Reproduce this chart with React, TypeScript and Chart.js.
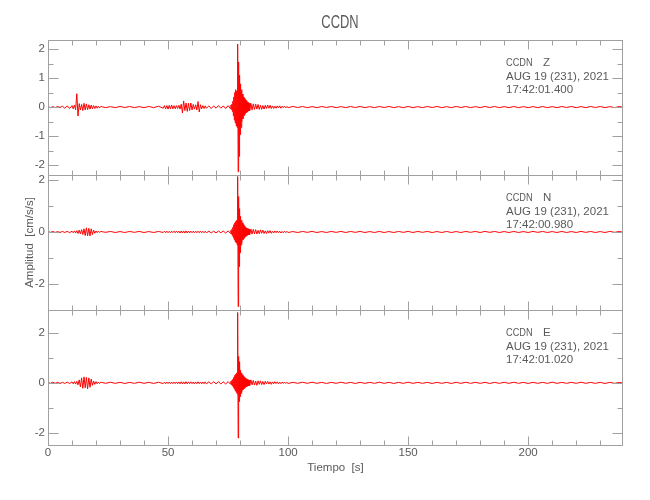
import React, { useEffect, useRef } from 'react';
import { Chart, registerables } from 'chart.js';

Chart.register(...registerables);

// ---- data (signed envelope samples) ----
const stationName = 'CCDN';
const components = ['Z', 'N', 'E'];
const dateLabel = 'AUG 19 (231), 2021';
const startTimes = ['17:42:01.400', '17:42:00.980', '17:42:01.020'];
const xTickLabels = [0, 50, 100, 150, 200];

const timeGrid = [
  0, 1, 2, 3, 4, 5, 6, 7, 8, 9,
  10, 10.5, 11, 11.5, 12, 12.5, 13, 13.5, 14, 14.5, 15, 15.5, 16, 16.5, 17, 17.5, 18, 18.5, 19, 19.5, 20, 20.5, 21, 21.5,
  22, 24, 26, 28, 30, 32, 34, 36, 38, 40, 42, 44, 46,
  48, 48.5, 49, 49.5, 50, 50.5, 51, 51.5, 52, 52.5, 53, 53.5, 54, 54.5, 55, 55.5, 56, 56.5, 57, 57.5, 58, 58.5, 59, 59.5,
  60, 60.5, 61, 61.5, 62, 62.5, 63, 63.5, 64, 64.5, 65, 65.5,
  66, 67, 68, 69, 70, 71, 72, 73, 74, 75,
  76, 76.2, 76.4, 76.6, 76.8, 77, 77.2, 77.4, 77.6, 77.8, 78, 78.2, 78.4, 78.6, 78.8, 79, 79.2, 79.4, 79.6, 79.8,
  80, 80.2, 80.4, 80.6, 80.8, 81, 81.2, 81.4, 81.6, 81.8, 82, 82.2, 82.4, 82.6, 82.8, 83, 83.2, 83.4, 83.6, 83.8,
  84, 84.5, 85, 85.5, 86, 86.5, 87, 87.5, 88, 88.5, 89, 89.5, 90, 90.5, 91, 91.5, 92, 92.5, 93, 93.5,
  94, 94.5, 95, 95.5, 96, 96.5, 97, 97.5, 98, 98.5, 99, 99.5,
  100, 102, 104, 106, 108, 110, 112, 114, 116, 118, 120, 122, 124, 126, 128, 130, 132, 134, 136, 138,
  140, 142, 144, 146, 148, 150, 152, 154, 156, 158, 160, 162, 164, 166, 168, 170, 172, 174, 176, 178,
  180, 182, 184, 186, 188, 190, 192, 194, 196, 198, 200, 202, 204, 206, 208, 210, 212, 214, 216, 218,
  220, 222, 224, 226, 228, 230, 232, 234, 236, 238, 240,
];

const zValues = [
  0.02, -0.02, 0.015, -0.02, 0.02, -0.015, 0.03, -0.04, 0.04, -0.05,
  0.05, -0.06, 0.07, -0.09, 0.46, -0.31, 0.12, -0.1, 0.09, -0.12,
  0.13, -0.1, 0.11, -0.09, 0.08, -0.07, 0.07, -0.06, 0.05, -0.05,
  0.04, -0.04, 0.03, -0.03,
  0.02, -0.02, 0.015, -0.02, 0.02, -0.015, 0.02, -0.02, 0.015, -0.02,
  0.02, -0.02, 0.03,
  -0.04, 0.05, -0.06, 0.05, -0.07, 0.06, -0.06, 0.07, -0.06, 0.05,
  -0.06, 0.05, -0.05, 0.06, -0.07, 0.1, -0.2, 0.21, -0.12, 0.14,
  -0.15, 0.13, -0.12, 0.14, -0.1, 0.09, -0.07, 0.08, -0.1, 0.19,
  -0.17, 0.08, -0.06, 0.05, -0.05, 0.04,
  -0.04, 0.04, -0.05, 0.04, -0.04, 0.05, -0.04, 0.04, -0.05, 0.05,
  -0.06, 0.07, -0.08, 0.1, -0.15, 0.2, -0.3, 0.35, -0.45, 0.5,
  -0.55, 0.6, -0.65, 0.55, -0.7, 2.17, -2.23, 1.55, -1.7, 1.1,
  -0.95, 0.8, -0.7, 0.6, -0.5, 0.45, -0.4, 0.35, -0.3, 0.3,
  -0.25, 0.25, -0.2, 0.22, -0.18, 0.17, -0.15, 0.15, -0.13, 0.13,
  -0.12, 0.13, -0.1, 0.11, -0.08, 0.1, -0.07, 0.09, -0.08, 0.06,
  -0.08, 0.05, -0.07, 0.06, -0.05, 0.07, -0.04, 0.06, -0.05, 0.04,
  -0.05, 0.03, -0.04, 0.04, -0.03, 0.04, -0.04, 0.03, -0.02, 0.03,
  -0.03, 0.02,
  -0.02, 0.02, -0.015, 0.02, -0.02, 0.015, -0.02, 0.02, -0.015, 0.02,
  -0.02, 0.015, -0.02, 0.02, -0.015, 0.02, -0.02, 0.015, -0.02, 0.02,
  -0.015, 0.02, -0.02, 0.015, -0.02, 0.02, -0.02, 0.015, -0.02, 0.02,
  -0.015, 0.02, -0.02, 0.015, -0.02, 0.02, -0.015, 0.02, -0.02, 0.015,
  -0.02, 0.02, -0.015, 0.02, -0.02, 0.015, -0.02, 0.02, -0.02, 0.015,
  -0.02, 0.015, -0.02, 0.02, -0.02, 0.015, -0.02, 0.02, -0.015, 0.02,
  -0.02, 0.015, -0.02, 0.02, -0.015, 0.02, -0.02, 0.015, -0.02, 0.02,
  -0.015,
];

const nValues = [
  0.02, -0.015, 0.02, -0.02, 0.015, -0.02, 0.02, -0.02, 0.025, -0.03,
  0.03, -0.03, 0.04, -0.04, 0.05, -0.06, 0.07, -0.07, 0.09, -0.1,
  0.12, -0.14, 0.16, -0.15, 0.14, -0.15, 0.12, -0.1, 0.07, -0.05,
  0.04, -0.03, 0.03, -0.02,
  0.02, -0.015, 0.02, -0.02, 0.015, -0.02, 0.02, -0.015, 0.02, -0.02,
  0.015, -0.02, 0.02,
  -0.02, 0.03, -0.03, 0.03, -0.03, 0.025, -0.03, 0.03, -0.025, 0.03,
  -0.03, 0.03, -0.03, 0.03, -0.04, 0.04, -0.04, 0.04, -0.04, 0.04,
  -0.04, 0.035, -0.035, 0.03, -0.03, 0.03, -0.03, 0.03, -0.03, 0.03,
  -0.03, 0.03, -0.03, 0.025, -0.03, 0.03,
  -0.03, 0.03, -0.035, 0.03, -0.035, 0.035, -0.03, 0.035, -0.04, 0.04,
  -0.05, 0.06, -0.08, 0.1, -0.14, 0.18, -0.22, 0.28, -0.3, 0.35,
  -0.38, 0.4, -0.42, 0.45, -0.5, 2.13, -2.87, 1.36, -1.33, 0.9,
  -0.8, 0.6, -0.5, 0.45, -0.4, 0.35, -0.3, 0.28, -0.25, 0.22,
  -0.2, 0.18, -0.17, 0.15, -0.14, 0.13, -0.12, 0.12, -0.11, 0.1,
  -0.1, 0.11, -0.08, 0.1, -0.07, 0.09, -0.08, 0.06, -0.07, 0.08,
  -0.05, 0.07, -0.06, 0.04, -0.06, 0.05, -0.04, 0.05, -0.05, 0.03,
  -0.04, 0.04, -0.03, 0.04, -0.03, 0.03, -0.04, 0.02, -0.03, 0.03,
  -0.025, 0.02,
  -0.02, 0.015, -0.02, 0.02, -0.015, 0.02, -0.02, 0.015, -0.02, 0.02,
  -0.015, 0.02, -0.02, 0.02, -0.015, 0.02, -0.02, 0.015, -0.02, 0.02,
  -0.02, 0.015, -0.02, 0.02, -0.015, 0.02, -0.02, 0.02, -0.015, 0.02,
  -0.02, 0.015, -0.02, 0.02, -0.02, 0.015, -0.02, 0.02, -0.015, 0.02,
  -0.02, 0.02, -0.015, 0.02, -0.02, 0.015, -0.02, 0.02, -0.02, 0.015,
  -0.02, 0.02, -0.015, 0.02, -0.02, 0.015, -0.02, 0.02, -0.02, 0.015,
  -0.02, 0.02, -0.015, 0.02, -0.02, 0.015, -0.02, 0.02, -0.015, 0.02,
  -0.02,
];

const eValues = [
  0.02, -0.02, 0.025, -0.02, 0.02, -0.025, 0.02, -0.025, 0.03, -0.03,
  0.04, -0.04, 0.05, -0.05, 0.06, -0.08, 0.12, -0.16, 0.2, -0.22,
  0.24, -0.2, 0.22, -0.24, 0.2, -0.18, 0.15, -0.1, 0.07, -0.06,
  0.05, -0.04, 0.03, -0.03,
  0.025, -0.02, 0.025, -0.02, 0.02, -0.025, 0.02, -0.02, 0.025, -0.02,
  0.02, -0.025, 0.025,
  -0.03, 0.03, -0.035, 0.03, -0.03, 0.035, -0.03, 0.03, -0.035, 0.03,
  -0.03, 0.035, -0.035, 0.035, -0.04, 0.045, -0.045, 0.04, -0.04, 0.045,
  -0.04, 0.04, -0.035, 0.04, -0.035, 0.035, -0.04, 0.035, -0.035, 0.04,
  -0.035, 0.035, -0.04, 0.035, -0.035, 0.04,
  -0.04, 0.04, -0.04, 0.045, -0.04, 0.045, -0.045, 0.04, -0.045, 0.05,
  -0.05, 0.06, -0.07, 0.09, -0.12, 0.15, -0.18, 0.22, -0.25, 0.3,
  -0.32, 0.35, -0.38, 0.4, -0.45, 2.83, -2.22, 1.06, -0.75, 0.85,
  -0.55, 0.5, -0.42, 0.4, -0.35, 0.32, -0.28, 0.26, -0.24, 0.22,
  -0.2, 0.18, -0.17, 0.16, -0.15, 0.14, -0.13, 0.12, -0.12, 0.11,
  -0.11, 0.12, -0.08, 0.1, -0.09, 0.07, -0.1, 0.08, -0.06, 0.08,
  -0.07, 0.05, -0.07, 0.06, -0.04, 0.06, -0.05, 0.04, -0.06, 0.04,
  -0.04, 0.05, -0.03, 0.04, -0.04, 0.03, -0.035, 0.03, -0.025, 0.03,
  -0.025, 0.02,
  -0.025, 0.02, -0.02, 0.025, -0.02, 0.025, -0.02, 0.02, -0.025, 0.02,
  -0.02, 0.025, -0.02, 0.02, -0.025, 0.02, -0.02, 0.02, -0.02, 0.025,
  -0.02, 0.02, -0.025, 0.02, -0.02, 0.025, -0.02, 0.02, -0.02, 0.02,
  -0.025, 0.02, -0.02, 0.02, -0.025, 0.02, -0.02, 0.025, -0.02, 0.02,
  -0.02, 0.02, -0.025, 0.02, -0.02, 0.02, -0.02, 0.025, -0.02, 0.02,
  -0.025, 0.02, -0.02, 0.02, -0.02, 0.025, -0.02, 0.02, -0.02, 0.02,
  -0.02, 0.025, -0.02, 0.02, -0.02, 0.02, -0.025, 0.02, -0.02, 0.02,
  -0.02,
];

// axis ranges per panel (top to bottom: Z, N, E)
const yMins = [-2.34, -3.0, -2.5];
const yMaxs = [2.31, 2.19, 2.93];
const yMinorSteps = [0.5, 1, 1];
const yLabelSteps = [1, 2, 2];
const xMin = 0;
const xMax = 239.5;

// ---- styling ----
const TEXT = '#5a5a5a';
const FRAME = '#a0a0a0';
const TRACE = '#ff0000';
const FONT = "'Liberation Sans', Arial, sans-serif";
const axisIds = ['yZ', 'yN', 'yE'];

const isMultiple = (v: number, step: number) => Math.abs(v / step - Math.round(v / step)) < 1e-6;

const framePlugin = {
  id: 'seisFrame',
  afterDraw(chart: any) {
    const { ctx, chartArea, scales } = chart;
    const xs = scales.x;
    const L = Math.round(chartArea.left) + 0.5;
    const R = Math.round(chartArea.right) - 0.5;
    ctx.save();
    ctx.strokeStyle = FRAME;
    ctx.lineWidth = 1;
    const seg = (x1: number, y1: number, x2: number, y2: number) => {
      ctx.beginPath();
      ctx.moveTo(x1, y1);
      ctx.lineTo(x2, y2);
      ctx.stroke();
    };
    axisIds.forEach((id, p) => {
      const s = scales[id];
      const T = Math.round(s.top) + 0.5;
      const B = Math.round(s.bottom) + 0.5;
      ctx.strokeRect(L, T, R - L, B - T);
      for (let k = 0; k * 10 <= xs.max + 1e-9; k++) {
        const v = k * 10;
        const px = Math.round(xs.getPixelForValue(v)) + 0.5;
        const len = isMultiple(v, 50) ? 9 : 5;
        seg(px, T, px, T + len);
        seg(px, B, px, B - len);
      }
      const st = yMinorSteps[p];
      for (let k = Math.ceil(s.min / st - 1e-9); k * st <= s.max + 1e-9; k++) {
        const v = k * st;
        const py = Math.round(s.getPixelForValue(v)) + 0.5;
        const len = isMultiple(v, yLabelSteps[p]) ? 10 : 5;
        seg(L, py, L + len, py);
        seg(R, py, R - len, py);
      }
      // station annotation
      ctx.fillStyle = TEXT;
      ctx.font = `11.5px ${FONT}`;
      ctx.textBaseline = 'alphabetic';
      ctx.textAlign = 'left';
      const top = s.top;
      ctx.save();
      ctx.translate(506, top + 26);
      ctx.scale(0.8, 1);
      ctx.fillText(stationName, 0, 0);
      ctx.restore();
      ctx.fillText(components[p], 543, top + 26);
      ctx.fillText(dateLabel, 506, top + 40);
      ctx.fillText(startTimes[p], 506, top + 53);
    });
    // title
    ctx.fillStyle = TEXT;
    ctx.font = `19px ${FONT}`;
    ctx.textAlign = 'center';
    ctx.textBaseline = 'alphabetic';
    ctx.translate(340, 28);
    ctx.scale(0.68, 1);
    ctx.fillText(stationName, 0, 0);
    ctx.restore();
  },
};

function makeYAxis(p: number, withTitle: boolean) {
  return {
    type: 'linear',
    position: 'left',
    stack: 'traces',
    stackWeight: 1,
    min: yMins[p],
    max: yMaxs[p],
    grid: { display: false, drawTicks: false },
    border: { display: false },
    ticks: {
      stepSize: yMinorSteps[p],
      includeBounds: false,
      autoSkip: false,
      padding: 3,
      color: TEXT,
      font: { family: FONT, size: 11.5 },
      callback: (v: number) => (isMultiple(v, yLabelSteps[p]) ? String(Math.round(v)) : null),
    },
    title: withTitle
      ? { display: true, text: 'Amplitud  [cm/s/s]', color: TEXT, font: { family: FONT, size: 11.5 }, padding: { top: 23, bottom: 0 } }
      : { display: false },
    afterFit: (s: any) => {
      s.width = 48;
    },
  };
}

export default function App() {
  const canvasRef = useRef<HTMLCanvasElement | null>(null);

  useEffect(() => {
    if (!canvasRef.current) return;
    const traces = [zValues, nValues, eValues];
    const datasets = traces.map((vals, p) => ({
      label: components[p],
      data: timeGrid.map((t, i) => ({ x: t, y: vals[i] })),
      yAxisID: axisIds[p],
      borderColor: TRACE,
      borderWidth: 1,
      pointRadius: 0,
      tension: 0,
      fill: false,
    }));
    const chart = new Chart(canvasRef.current, {
      type: 'line',
      data: { datasets },
      options: {
        animation: false,
        responsive: false,
        layout: { padding: { top: 40, right: 27, left: 0, bottom: 0 } },
        plugins: {
          legend: { display: false },
          title: { display: false },
          tooltip: { enabled: false },
        },
        scales: {
          x: {
            type: 'linear',
            min: xMin,
            max: xMax,
            grid: { display: false, drawTicks: false },
            border: { display: false },
            ticks: {
              stepSize: 10,
              includeBounds: false,
              autoSkip: false,
              maxRotation: 0,
              padding: 1,
              color: TEXT,
              font: { family: FONT, size: 11.5 },
              callback: (v: number) => (xTickLabels.some((l) => Math.abs(l - v) < 1e-6) ? String(v) : null),
            },
            title: {
              display: true,
              text: 'Tiempo  [s]',
              color: TEXT,
              font: { family: FONT, size: 11.5 },
              padding: { top: 0, bottom: 25 },
            },
            afterFit: (s: any) => {
              s.height = 55;
            },
          },
          yE: makeYAxis(2, false),
          yN: makeYAxis(1, true),
          yZ: makeYAxis(0, false),
        } as any,
      },
      plugins: [framePlugin],
    } as any);
    return () => chart.destroy();
  }, []);

  return (
    <div style={{ position: 'fixed', left: 0, top: 0, width: 650, height: 500, background: '#fff' }}>
      <canvas ref={canvasRef} width={650} height={500} />
    </div>
  );
}
